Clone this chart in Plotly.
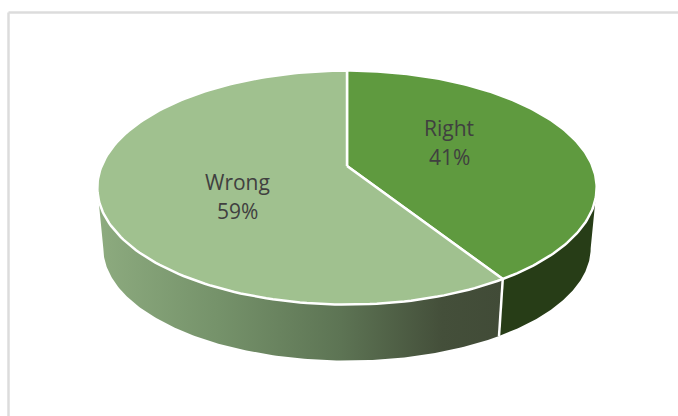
import numpy as np
import plotly.graph_objects as go

categories = ["Right", "Wrong"]
values = [41, 59]
top_colors = ["#5f9a3f", "#a0c18f"]
label_xy = [(449, 128, 157), (237, 182, 211)]

W, H = 678, 416
K = 0.1845
TOP = dict(cx=347.0, cy=166.0, bx=245.4, by=113.0)
BOT = dict(cx=347.0, cy=227.5, bx=239.5, by=108.5)


def disk(theta_deg, g, r=1.0):
    t = np.radians(theta_deg)
    u, v = r * np.sin(t), r * np.cos(t)
    w = 1 + K * v
    return g["cx"] + g["bx"] * u / w, g["cy"] - g["by"] * v / w


total = sum(values)
split = 360.0 * values[0] / total
widest = np.degrees(np.arccos(-K))


def arc(a, b, n=160):
    return np.linspace(a, b, n)


def side_trace(a, b, **kw):
    th = arc(a, b)
    x1, y1 = disk(th, TOP)
    x2, y2 = disk(th[::-1], BOT)
    return go.Scatter(
        x=np.r_[x1, x2], y=np.r_[y1, y2], mode="lines", fill="toself",
        line=dict(width=0), hoverinfo="skip", showlegend=False, **kw)


fig = go.Figure()
fig.add_trace(side_trace(widest, split, fillcolor="#273d17"))
fig.add_trace(side_trace(split, 360 - widest, fillcolor="#7f9c72", fillgradient=dict(
    type="horizontal",
    colorscale=[[0, "#8dab7f"], [0.3, "#75926a"], [0.6, "#5d7454"], [0.85, "#444f3a"], [1, "#414b37"]],
)))

start = 0.0
for name, val, col in zip(categories, values, top_colors):
    end = start + 360.0 * val / total
    x, y = disk(arc(start, end), TOP)
    fig.add_trace(go.Scatter(
        x=np.r_[TOP["cx"], x, TOP["cx"]], y=np.r_[TOP["cy"], y, TOP["cy"]],
        mode="lines", fill="toself", fillcolor=col, line=dict(color="white", width=2.5),
        hoverinfo="skip", showlegend=False, name=name))
    start = end

xa, ya = disk(split, TOP)
xb, yb = disk(split, BOT)
fig.add_trace(go.Scatter(x=[xa, xb], y=[ya, yb], mode="lines",
                         line=dict(color="white", width=2.5),
                         hoverinfo="skip", showlegend=False))

annotations = []
for name, val, (lx, y1, y2) in zip(categories, values, label_xy):
    for txt, ly in ((name, y1), (f"{val}%", y2)):
        annotations.append(dict(x=lx, y=ly, xref="x", yref="y", text=txt, showarrow=False,
                                xanchor="center", yanchor="middle",
                                font=dict(family="Open Sans", size=21, color="#404040")))

fig.update_layout(
    width=W, height=H, margin=dict(l=0, r=0, t=0, b=0),
    paper_bgcolor="white", plot_bgcolor="white", showlegend=False,
    xaxis=dict(range=[0, W], visible=False, fixedrange=True),
    yaxis=dict(range=[H, 0], visible=False, fixedrange=True),
    annotations=annotations,
    shapes=[dict(type="line", x0=8.5, x1=8.5, y0=12.5, y1=H, xref="x", yref="y",
                 line=dict(color="#dcdcdc", width=2.5)),
            dict(type="line", x0=8.5, x1=W, y0=12.5, y1=12.5, xref="x", yref="y",
                 line=dict(color="#dcdcdc", width=2.5))],
)

fig.write_html("out.html", config={"displayModeBar": False},
               post_script="document.body.style.margin='0';document.body.style.overflow='hidden';")
